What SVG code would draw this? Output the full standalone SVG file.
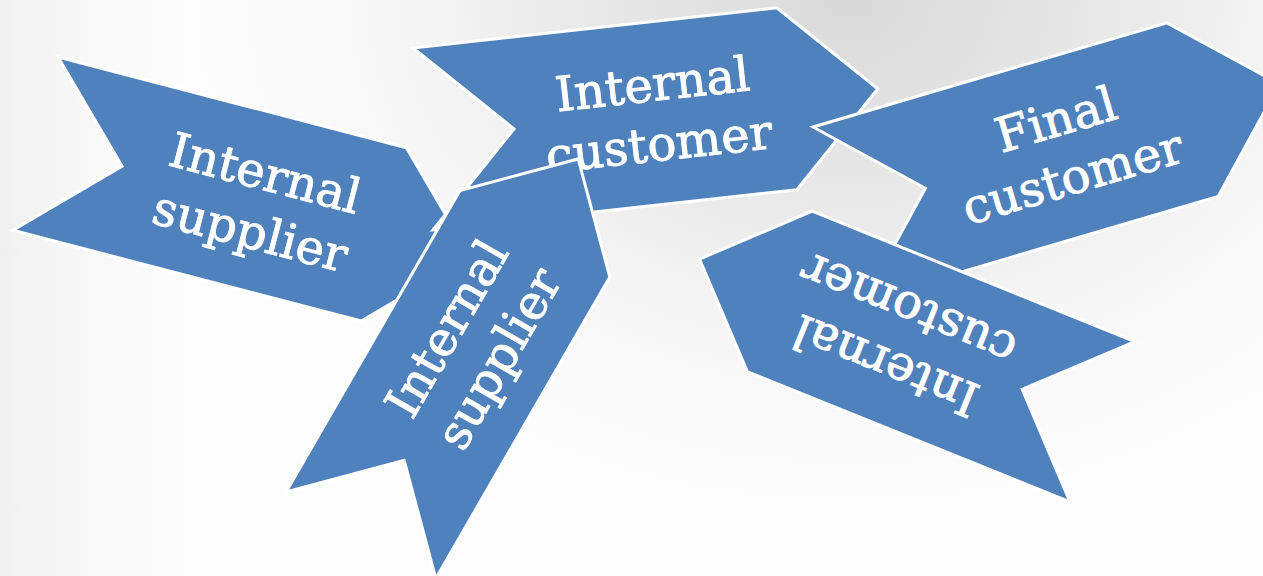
<svg xmlns="http://www.w3.org/2000/svg" width="1263" height="576" viewBox="0 0 1263 576">
  <defs>
    <radialGradient id="bgTop" cx="850" cy="0" r="560" gradientUnits="userSpaceOnUse" gradientTransform="translate(850 0) scale(1.3 1) translate(-850 0)">
      <stop offset="0" stop-color="#d9d9d9"/>
      <stop offset="0.45" stop-color="#ededed"/>
      <stop offset="1" stop-color="#ffffff" stop-opacity="0"/>
    </radialGradient>
    <linearGradient id="bgLeft" x1="0" y1="0" x2="240" y2="0" gradientUnits="userSpaceOnUse">
      <stop offset="0" stop-color="#f0f0f0"/>
      <stop offset="1" stop-color="#ffffff" stop-opacity="0"/>
    </linearGradient>
    <style>
      .arrow { fill: #4f81bd; stroke: #ffffff; stroke-width: 3; stroke-linejoin: miter; }
      .lbl { fill: #ffffff; stroke: #ffffff; stroke-width: 0.9; font-family: "DejaVu Serif", "Liberation Serif", serif; font-size: 48px; text-anchor: middle; }
    </style>
  </defs>
  <rect x="0" y="0" width="1263" height="576" fill="#fdfdfd"/>
  <rect x="0" y="0" width="1263" height="576" fill="url(#bgLeft)"/>
  <rect x="0" y="0" width="1263" height="576" fill="url(#bgTop)"/>

  <g id="node-internal-supplier-1" transform="translate(58 57) rotate(14.6)">
    <polygon class="arrow" points="0,0 360,0 449.5,89.5 360,179 0,179 89.5,89.5"/>
    <text class="lbl" x="230" y="77">Internal</text>
    <text class="lbl" x="230" y="137">supplier</text>
  </g>

  <g id="node-internal-customer-1" transform="translate(413 48) rotate(-6.3)">
    <polygon class="arrow" points="0,0 366,0 457.5,91.5 366,183 0,183 91.5,91.5"/>
    <text class="lbl" x="234" y="79">Internal</text>
    <text class="lbl" x="234" y="139">customer</text>
  </g>

  <g id="node-final-customer" transform="translate(813 127) rotate(-16.4)">
    <polygon class="arrow" points="0,0 369,0 459.5,90.5 369,181 0,181 90.5,90.5"/>
    <text class="lbl" x="235" y="78">Final</text>
    <text class="lbl" x="235" y="138">customer</text>
  </g>

  <g id="node-internal-supplier-2" transform="translate(286 492) rotate(-60)">
    <polygon class="arrow" points="0,0 348,0 434.5,86.5 348,173 0,173 86.5,86.5"/>
    <text class="lbl" x="222" y="74">Internal</text>
    <text class="lbl" x="222" y="134">supplier</text>
  </g>

  <g id="node-internal-customer-2" transform="translate(1070 502) rotate(202)">
    <polygon class="arrow" points="0,0 348,0 434.5,86.5 348,173 0,173 86.5,86.5"/>
    <text class="lbl" x="222" y="74">Internal</text>
    <text class="lbl" x="222" y="134">customer</text>
  </g>

  <g id="connectors"></g>
</svg>
